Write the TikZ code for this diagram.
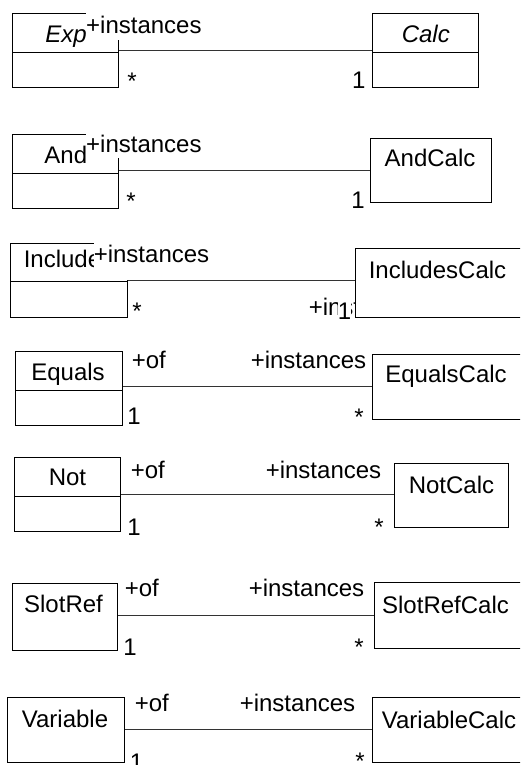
\documentclass[tikz,border=0pt]{standalone}
\usepackage{fontspec}
\setmainfont{Liberation Sans}
\begin{document}
\begin{tikzpicture}[x=1pt,y=-1pt,
  box/.style={draw=black, fill=white, line width=0.9pt, inner sep=0pt, anchor=north west},
  divider/.style={draw=black, line width=0.9pt},
  assoc/.style={draw=black!80, line width=0.9pt},
  ttl/.style={font=\fontsize{24}{28}\selectfont, inner sep=0pt, anchor=base},
  lbl/.style={font=\fontsize{24}{28}\selectfont, inner sep=0pt, anchor=base west},
  mult/.style={font=\fontsize{24}{28}\selectfont, inner sep=0pt, anchor=base},
  cover/.style={fill=white, text height=22pt, text depth=#1}]
\clip (0,0) rectangle (520,765);
\fill[white] (0,0) rectangle (520,765);
% ---------- row 1
\node[box, minimum width=106pt, minimum height=74pt] (exp) at (12,13) {};
\draw[divider] ([yshift=-39pt]exp.north west) -- ([yshift=-39pt]exp.north east);
\node[ttl, font=\fontsize{24}{28}\selectfont\itshape] (expT) at (66,43) {Exp};
\coordinate (y1) at (0,50);
\node[lbl, cover=7pt] (l1a) at (86,33.3) {+instances};
\node[mult] (m1a) at (132,89.5) {*};
\node[mult] (m1b) at (358.7,89) {1};
\node[box, minimum width=106pt, minimum height=74pt] (calc) at (372,13) {};
\draw[divider] ([yshift=-39pt]calc.north west) -- ([yshift=-39pt]calc.north east);
\node[ttl, font=\fontsize{24}{28}\selectfont\itshape] (calcT) at (425.8,43) {Calc};
\draw[assoc] (exp.east |- y1) -- (calc.west |- y1);
% ---------- row 2
\node[box, minimum width=106pt, minimum height=74pt] (and) at (12,134.3) {};
\draw[divider] ([yshift=-39pt]and.north west) -- ([yshift=-39pt]and.north east);
\node[ttl] (andT) at (65.8,163) {And};
\coordinate (y2) at (0,170);
\node[lbl, cover=5.5pt] (l2a) at (86,152.7) {+instances};
\node[mult] (m2a) at (131,209.5) {*};
\node[mult] (m2b) at (358,208) {1};
\node[box, minimum width=121pt, minimum height=64pt] (andcalc) at (370,138.3) {};
\node[ttl] (andcalcT) at (430,166.7) {AndCalc};
\draw[assoc] (and.east |- y2) -- (andcalc.west |- y2);
% ---------- row 3
\node[box, minimum width=117pt, minimum height=73.8pt] (incl) at (10,242.7) {};
\draw[divider] ([yshift=-39pt]incl.north west) -- ([yshift=-39pt]incl.north east);
\node[ttl] (inclT) at (68.5,267.5) {Includes};
\coordinate (y3) at (0,280);
\node[lbl, cover=18pt] (l3a) at (93.6,262) {+instances};
\node[mult] (m3a) at (137,319.5) {*};
\node[lbl] (l3b) at (308.6,315) {+instances};
\node[mult, fill=white] (m3b) at (344.5,319) {1};
\node[box, minimum width=175pt, minimum height=68.5pt] (inclcalc) at (355,248.3) {};
\node[ttl] (inclcalcT) at (437.5,278) {IncludesCalc};
\draw[assoc] (incl.east |- y3) -- (inclcalc.west |- y3);
% ---------- row 4
\node[box, minimum width=107pt, minimum height=74pt] (eq) at (15,351) {};
\draw[divider] ([yshift=-39pt]eq.north west) -- ([yshift=-39pt]eq.north east);
\node[ttl] (eqT) at (68,380) {Equals};
\coordinate (y4) at (0,386);
\node[lbl] (l4a) at (131.6,368.3) {+of};
\node[lbl] (l4b) at (250.6,368.3) {+instances};
\node[mult] (m4a) at (134,424) {1};
\node[mult] (m4b) at (359,425.5) {*};
\node[box, minimum width=160pt, minimum height=64.7pt] (eqcalc) at (372,354.3) {};
\node[ttl] (eqcalcT) at (446,382.7) {EqualsCalc};
\draw[assoc] (eq.east |- y4) -- (eqcalc.west |- y4);
% ---------- row 5
\node[box, minimum width=106pt, minimum height=74pt] (not) at (14,456.7) {};
\draw[divider] ([yshift=-39.3pt]not.north west) -- ([yshift=-39.3pt]not.north east);
\node[ttl] (notT) at (67.5,485) {Not};
\coordinate (y5) at (0,494);
\node[lbl] (l5a) at (130.6,478.3) {+of};
\node[lbl] (l5b) at (265.6,478.3) {+instances};
\node[mult] (m5a) at (134,535) {1};
\node[mult] (m5b) at (379,535) {*};
\node[box, minimum width=114pt, minimum height=64.6pt] (notcalc) at (394,462.7) {};
\node[ttl] (notcalcT) at (451.5,493) {NotCalc};
\draw[assoc] (not.east |- y5) -- (notcalc.west |- y5);
% ---------- row 6
\node[box, minimum width=105pt, minimum height=66.7pt] (slot) at (12,583.3) {};
\node[ttl] (slotT) at (63.5,612.5) {SlotRef};
\coordinate (y6) at (0,615.7);
\node[lbl] (l6a) at (124.6,596.7) {+of};
\node[lbl] (l6b) at (248.6,596.7) {+instances};
\node[mult] (m6a) at (130,655) {1};
\node[mult] (m6b) at (359,655) {*};
\node[box, minimum width=160pt, minimum height=66pt] (slotcalc) at (374,582.3) {};
\node[ttl] (slotcalcT) at (445.5,613) {SlotRefCalc};
\draw[assoc] (slot.east |- y6) -- (slotcalc.west |- y6);
% ---------- row 7
\node[box, minimum width=117pt, minimum height=64.7pt] (var) at (7,697.3) {};
\node[ttl] (varT) at (65,727) {Variable};
\coordinate (y7) at (0,729.3);
\node[lbl] (l7a) at (134.6,711.7) {+of};
\node[lbl] (l7b) at (239.6,711.7) {+instances};
\node[mult] (m7a) at (136.5,770) {1};
\node[mult] (m7b) at (360,769.5) {*};
\node[box, minimum width=160pt, minimum height=65.3pt] (varcalc) at (372,696.7) {};
\node[ttl] (varcalcT) at (449,728) {VariableCalc};
\draw[assoc] (var.east |- y7) -- (varcalc.west |- y7);
\end{tikzpicture}
\end{document}
